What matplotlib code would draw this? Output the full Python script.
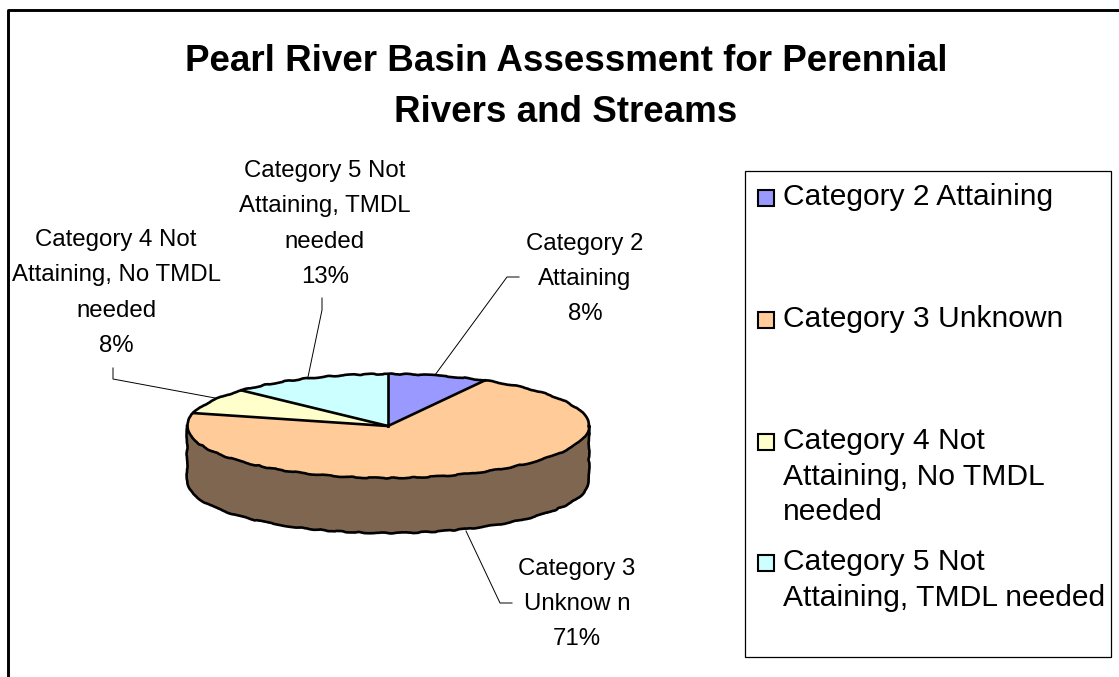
import matplotlib
matplotlib.use("Agg")
import matplotlib.pyplot as plt
import numpy as np
from matplotlib.patches import Rectangle

categories = ["Category 2 Attaining", "Category 3 Unknown",
              "Category 4 Not Attaining, No TMDL needed",
              "Category 5 Not Attaining, TMDL needed"]
values = [8, 71, 8, 13]
colors = ["#9999FF", "#FFCC99", "#FFFFCC", "#CCFFFF"]
side_color = "#7F6650"

title_text = "Pearl River Basin Assessment for Perennial\nRivers and Streams"
slice_labels = ["Category 2\nAttaining\n8%", "Category 3\nUnknow n\n71%",
                "Category 4 Not\nAttaining, No TMDL\nneeded\n8%",
                "Category 5 Not\nAttaining, TMDL\nneeded\n13%"]
legend_labels = ["Category 2 Attaining", "Category 3 Unknown",
                 "Category 4 Not\nAttaining, No TMDL\nneeded",
                 "Category 5 Not\nAttaining, TMDL needed"]

plt.rcParams["font.family"] = ["Liberation Sans", "DejaVu Sans"]
W, H = 1119, 677
fig = plt.figure(figsize=(W / 100, H / 100), dpi=100)

# page overlay in pixel coordinates
bg = fig.add_axes([0, 0, 1, 1])
bg.set_xlim(0, W)
bg.set_ylim(H, 0)
bg.axis("off")

# frame, only left and top show
bg.plot([7.5, 7.5, W], [H, 9.5, 9.5], color="black", lw=2.1)

bg.text(566, 87, title_text, ha="center", va="center", fontsize=26.5,
        fontweight="bold", linespacing=1.6)

# pie axes, unit ellipse mapped on to the pixel box
left, right, top, bottom = 187, 589, 374, 533
ry = 52
depth = (bottom - top - 2 * ry) / ry
pie_ax = fig.add_axes([left / W, 1 - bottom / H, (right - left) / W, (bottom - top) / H])

t = np.linspace(np.pi, 2 * np.pi, 200)
pie_ax.fill_between(np.cos(t), np.sin(t), np.sin(t) - depth, color=side_color, lw=0)
pie_ax.pie(values, colors=colors, startangle=90, counterclock=False, radius=1,
           wedgeprops={"ec": "none"})
pie_ax.set_aspect("auto")
pie_ax.set_xlim(-1, 1)
pie_ax.set_ylim(-1 - depth, 1)
pie_ax.axis("off")

# outlines: wavy rims as in the original's coarse rendering
edge = dict(color="black", lw=1.9, clip_on=False, solid_joinstyle="round")
t_all = np.linspace(0, 2 * np.pi, 400)
rim = pie_ax.plot(np.cos(t_all), np.sin(t_all), **edge)[0]
low_x = np.r_[-1, np.cos(t), 1]
low_y = np.r_[0, np.sin(t) - depth, 0]
low = pie_ax.plot(low_x, low_y, **edge)[0]
for line in (rim, low):
    line.set_sketch_params(scale=0.5, length=45, randomness=8)

# slice boundaries
angles = np.pi / 2 - 2 * np.pi * np.cumsum(values) / np.sum(values)
for a in angles:
    pie_ax.plot([0, np.cos(a)], [0, np.sin(a)], **edge)

# data labels
label_pos = [(585, 279), (577, 604), (116, 293), (325, 224)]
for lab, (x, y) in zip(slice_labels, label_pos):
    bg.text(x, y, lab, ha="center", va="center", fontsize=17.3, linespacing=1.78)

# leader lines
leaders = [[(435, 375), (507, 277), (519, 277)],
           [(466, 531), (500, 603), (512, 603)],
           [(113, 368), (113, 379), (215, 398)],
           [(322, 298), (322, 310), (308, 377)]]
for pts in leaders:
    xs, ys = zip(*pts)
    bg.plot(xs, ys, color="black", lw=0.7)

# legend
bg.add_patch(Rectangle((745, 171), 366, 486, fc="white", ec="black", lw=0.9))
legend_y = [197.5, 319.5, 441.5, 562.5]
for lab, col, y in zip(legend_labels, colors, legend_y):
    bg.add_patch(Rectangle((757.5, y - 8), 16, 16, fc=col, ec="black", lw=1.5))
    bg.text(783, y - 14.5, lab, ha="left", va="top", fontsize=21.6, linespacing=1.35)

fig.savefig("out.png", dpi=100)
